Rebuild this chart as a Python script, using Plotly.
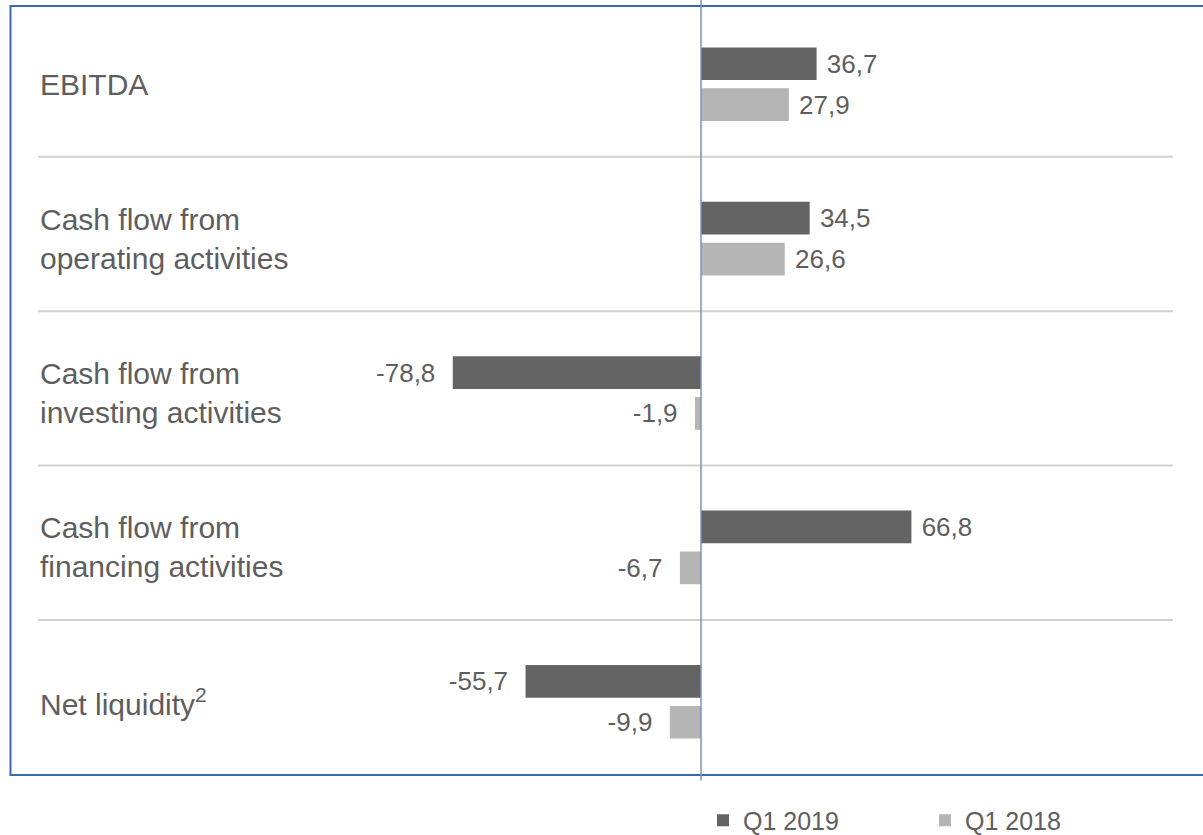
import plotly.graph_objects as go

# ---- data ----
categories = [
    "EBITDA",
    "Cash flow from<br>operating activities",
    "Cash flow from<br>investing activities",
    "Cash flow from<br>financing activities",
    "Net liquidity<sup>2</sup>",
]
q1_2019 = [36.7, 34.5, -78.8, 66.8, -55.7]
q1_2018 = [27.9, 26.6, -1.9, -6.7, -9.9]
series_names = ["Q1 2019", "Q1 2018"]

# ---- style ----
DARK = "#646464"
LIGHT = "#b5b5b5"
TEXT = "#5e5e5e"
BLUE = "#3b68b0"
ZERO = "#7b93bd"
SEP = "#d0d0d0"
FONT = "Arial, Liberation Sans, sans-serif"

W, H = 1203, 835
ML, MR, MT, MB = 10, 0, 7, 56
PW = W - ML - MR
PH = H - MT - MB

# x range so that 0 sits near x=701 px at ~3.15 px per unit
PX_PER_UNIT = 3.15
xmin = -(701 - ML) / PX_PER_UNIT
xmax = xmin + PW / PX_PER_UNIT


def fmt(v):
    s = f"{v:.1f}".replace(".", ",")
    return ("\u00a0" + s) if v >= 0 else (s + "\u00a0\u00a0")


fig = go.Figure()
for name, vals, col in [(series_names[0], q1_2019, DARK), (series_names[1], q1_2018, LIGHT)]:
    fig.add_trace(go.Bar(
        name=name,
        y=categories,
        x=vals,
        orientation="h",
        marker=dict(color=col, line=dict(width=0)),
        text=[fmt(v) for v in vals],
        textposition="outside",
        constraintext="none",
        cliponaxis=False,
        textfont=dict(family=FONT, size=26, color=TEXT),
        hoverinfo="skip",
    ))

# category labels, left aligned
for c in categories:
    fig.add_annotation(
        x=(38 - ML) / PW, xref="paper", xanchor="left",
        y=c, yref="y", yanchor="middle",
        text=c, showarrow=False, align="left",
        font=dict(family=FONT, size=30, color=TEXT),
    )

shapes = []
# separators between categories
for i in range(len(categories) - 1):
    shapes.append(dict(
        type="line", xref="paper", yref="y",
        x0=(38 - ML) / PW, x1=(1173 - ML) / PW,
        y0=i + 0.47, y1=i + 0.47,
        line=dict(color=SEP, width=2),
    ))
# frame (top, left, bottom)
top = 1 + 1 / PH
bot = 4 / PH
shapes.append(dict(
    type="path", xref="paper", yref="paper",
    path=f"M 1.01,{top} L 0.0004,{top} L 0.0004,{bot} L 1.01,{bot}",
    line=dict(color=BLUE, width=2),
))
# zero line
shapes.append(dict(
    type="line", xref="x", yref="paper",
    x0=0, x1=0, y0=-1.5 / PH, y1=1 + MT / PH,
    line=dict(color=ZERO, width=1.5),
))

fig.update_layout(
    width=W, height=H,
    margin=dict(l=ML, r=MR, t=MT, b=MB, autoexpand=False),
    paper_bgcolor="white", plot_bgcolor="white",
    barmode="group", bargap=0.47, bargroupgap=0.2,
    separators=",.",
    font=dict(family=FONT, color=TEXT),
    xaxis=dict(range=[xmin, xmax], visible=False, fixedrange=True),
    yaxis=dict(type="category", categoryorder="array", categoryarray=categories,
               range=[len(categories) - 0.5, -0.5], visible=False, fixedrange=True),
    shapes=shapes,
    showlegend=True,
    legend=dict(
        orientation="h", x=(703 - ML) / PW, xanchor="left",
        y=-0.0538, yanchor="middle",
        font=dict(family=FONT, size=25, color=TEXT),
        entrywidth=177, entrywidthmode="pixels",
        bgcolor="rgba(0,0,0,0)",
    ),
)

fig.write_html(
    "out.html",
    config={"displayModeBar": False},
    post_script="document.body.style.margin='0';document.body.style.overflow='hidden';",
)
